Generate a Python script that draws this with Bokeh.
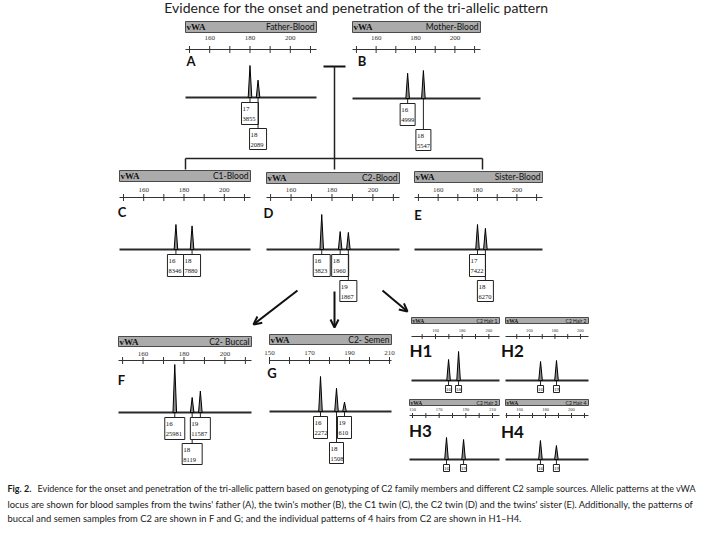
from bokeh.plotting import figure
from bokeh.models import Range1d, Arrow, OpenHead
from bokeh.embed import file_html
from bokeh.resources import INLINE
from bokeh.core.properties import value

# ---------------- data ----------------
TITLE = "Evidence for the onset and penetration of the tri-allelic pattern"
LOCUS = "vWA"
PANEL_IDS = ["A", "B", "C", "D", "E", "F", "G", "H1", "H2", "H3", "H4"]
SAMPLES = ["Father-Blood", "Mother-Blood", "C1-Blood", "C2-Blood", "Sister-Blood",
           "C2- Buccal", "C2- Semen", "C2 Hair 1", "C2 Hair 2", "C2 Hair 3", "C2 Hair 4"]

TICKS_160 = [160, 180, 200]          # size-axis tick labels (bp)
TICKS_150 = [150, 170, 190, 210]

# alleles, fragment sizes (bp) and peak heights (RFU) per panel
ALLELES_A, SIZES_A, RFU_A = ["17", "18"], [180.0, 184.0], [3855, 2089]
ALLELES_B, SIZES_B, RFU_B = ["16", "18"], [176.0, 184.0], [4999, 5547]
ALLELES_C, SIZES_C, RFU_C = ["16", "18"], [176.0, 184.0], [8346, 7880]
ALLELES_D, SIZES_D, RFU_D = ["16", "18", "19"], [175.0, 184.0, 188.0], [3823, 1960, 1867]
ALLELES_E, SIZES_E, RFU_E = ["17", "18"], [180.0, 184.0], [7422, 6270]
ALLELES_F, SIZES_F, RFU_F = ["16", "18", "19"], [175.5, 184.0, 188.0], [25981, 8119, 11587]
ALLELES_G, SIZES_G, RFU_G = ["16", "18", "19"], [175.5, 183.5, 187.5], [2272, 1508, 610]
# hair samples: no RFU printed, relative peak heights
ALLELES_H1, SIZES_H1, HEIGHT_H1 = ["16", "18"], [169.8, 177.3], [21, 29]
ALLELES_H2, SIZES_H2, HEIGHT_H2 = ["16", "19"], [168.7, 181.2], [19, 20]
ALLELES_H3, SIZES_H3, HEIGHT_H3 = ["16", "19"], [175.5, 188.3], [22, 20]
ALLELES_H4, SIZES_H4, HEIGHT_H4 = ["16", "19"], [176.1, 188.4], [19, 14]

CAPTION_BOLD = "Fig. 2."
CAPTION_LINES = [
    "Evidence for the onset and penetration of the tri-allelic pattern based on genotyping of C2 family members and different C2 sample sources. Allelic patterns at the vWA",
    "locus are shown for blood samples from the twins' father (A), the twin's mother (B), the C1 twin (C), the C2 twin (D) and the twins' sister (E). Additionally, the patterns of",
    "buccal and semen samples from C2 are shown in F and G; and the individual patterns of 4 hairs from C2 are shown in H1\u2013H4.",
]

DATA = {
    "A": (ALLELES_A, SIZES_A, RFU_A, TICKS_160, True),
    "B": (ALLELES_B, SIZES_B, RFU_B, TICKS_160, True),
    "C": (ALLELES_C, SIZES_C, RFU_C, TICKS_160, True),
    "D": (ALLELES_D, SIZES_D, RFU_D, TICKS_160, True),
    "E": (ALLELES_E, SIZES_E, RFU_E, TICKS_160, True),
    "F": (ALLELES_F, SIZES_F, RFU_F, TICKS_160, True),
    "G": (ALLELES_G, SIZES_G, RFU_G, TICKS_150, True),
    "H1": (ALLELES_H1, SIZES_H1, HEIGHT_H1, TICKS_160, False),
    "H2": (ALLELES_H2, SIZES_H2, HEIGHT_H2, TICKS_160, False),
    "H3": (ALLELES_H3, SIZES_H3, HEIGHT_H3, TICKS_150, False),
    "H4": (ALLELES_H4, SIZES_H4, HEIGHT_H4, TICKS_160, False),
}

# ---------------- layout (page positions, px) ----------------
LAYOUT = {
    "A": dict(bar=(193, 324, 29, 40), bp=(148, 213), tick_y=45.5, axis_y=57, letter=(198.5, 68.5), base=105, tall=32, box_w=17, rows=[0, 1]),
    "B": dict(bar=(360, 488, 29, 40), bp=(148, 213), tick_y=45.5, axis_y=57, letter=(369.5, 68.5), base=106, tall=28, box_w=15, rows=[0, 1]),
    "C": dict(bar=(127, 258, 178, 189), bp=(148, 213), tick_y=197, axis_y=205, letter=(129.5, 219), base=257, tall=25, box_w=17, rows=[0, 0]),
    "D": dict(bar=(274, 407, 180, 191), bp=(148, 213), tick_y=197, axis_y=205, letter=(276, 220.5), base=257, tall=35, box_w=17, rows=[0, 0, 1]),
    "E": dict(bar=(422, 550, 179, 190), bp=(148, 213), tick_y=197, axis_y=205, letter=(425.5, 222), base=257, tall=25, box_w=16, rows=[0, 1]),
    "F": dict(bar=(126, 259, 344, 354), bp=(148, 213), tick_y=361, axis_y=368, letter=(129, 387), base=420, tall=48, box_w=20, rows=[0, 1, 0]),
    "G": dict(bar=(277, 399, 342, 352), bp=(150, 211), tick_y=360, axis_y=368, letter=(279.5, 380), base=419, tall=35, box_w=14, rows=[0, 1, 0]),
    "H1": dict(bar=(419, 507, 325, 331), bp=(142, 208), tick_y=338, axis_y=344, letter=(428.5, 358), base=388, tall=29, box_w=6, rows=[0, 0]),
    "H2": dict(bar=(513, 596, 325, 331), bp=(141.2, 206.3), tick_y=338, axis_y=344, letter=(520, 358), base=388, tall=20, box_w=6, rows=[0, 0]),
    "H3": dict(bar=(417, 507, 407, 413), bp=(147.75, 215.25), tick_y=417, axis_y=423, letter=(428, 438), base=467, tall=22, box_w=6, rows=[0, 0]),
    "H4": dict(bar=(513, 596, 407, 413), bp=(149.2, 213.1), tick_y=417, axis_y=423, letter=(520, 439), base=467, tall=19, box_w=6, rows=[0, 0]),
}

SANS = value("Lato")
SERIF = value("Liberation Serif")
BAR_FILL = "#ababab"
BAR_LINE = "#4a4a4a"

p = figure(width=704, height=524, x_range=Range1d(8, 712), y_range=Range1d(532, 8),
           output_backend="svg", toolbar_location=None, min_border=0,
           x_axis_location=None, y_axis_location=None)
p.grid.visible = False
p.outline_line_color = None
p.background_fill_color = "white"
p.border_fill_color = "white"


def draw_panel(pid, sample):
    alleles, sizes, heights, ticks, show_rfu = DATA[pid]
    L = LAYOUT[pid]
    left, right, btop, bbot = L["bar"]
    lo, hi = L["bp"]
    base = L["base"]
    ppb = (right - left) / (hi - lo)
    small = pid.startswith("H")

    tr = p.subplot(x_source=Range1d(lo, hi), y_source=Range1d(0, max(heights)),
                   x_target=Range1d(left, right), y_target=Range1d(base, base - L["tall"]))
    dc = p.subplot(x_source=Range1d(lo, hi), y_source=Range1d(0, 540),
                   x_target=Range1d(left, right), y_target=Range1d(0, 540))

    # header bar
    dc.quad(left=[lo], right=[hi], top=[btop], bottom=[bbot],
            fill_color=BAR_FILL, line_color=BAR_LINE, line_width=1)
    ymid = (btop + bbot) / 2
    dc.text(x=[lo], y=[ymid], text=[LOCUS], x_offset=1, text_align="left",
            text_baseline="middle", text_font=SERIF, text_font_style="bold",
            text_font_size="5.5px" if small else "9px", text_color="#111111")
    dc.text(x=[hi], y=[ymid], text=[sample], x_offset=-2, text_align="right",
            text_baseline="middle", text_font=SANS,
            text_font_size="5px" if small else "8.5px", text_color="#111111")

    # size axis
    ay = L["axis_y"]
    dc.segment(x0=[lo], x1=[hi], y0=[ay], y1=[ay], line_color="#333333", line_width=1)
    tk = []
    t = ticks[0] - 10
    while t <= ticks[-1] + 10:
        if lo <= t <= hi:
            tk.append(t)
        t += 10
    tl = 2.5 if small else 3.5
    dc.segment(x0=tk, x1=tk, y0=[ay - tl] * len(tk), y1=[ay + tl] * len(tk),
               line_color="#333333", line_width=1)
    dc.text(x=ticks, y=[L["tick_y"]] * len(ticks), text=[str(v) for v in ticks],
            text_align="center", text_baseline="middle", text_font=SERIF,
            text_font_size="4.5px" if small else "7px", text_color="#333333")

    # panel letter
    lx, ly = L["letter"]
    p.text(x=[lx], y=[ly], text=[pid], text_align="center", text_baseline="middle",
           text_font=SANS, text_font_style="bold",
           text_font_size="17px" if small else "13px", text_color="#111111")

    # trace: baseline and peaks
    tr.line(x=[lo, hi], y=[0, 0], line_color="#2a2a2a", line_width=2)
    w = 1.8 / ppb
    tr.patches(xs=[[s - w, s, s + w] for s in sizes], ys=[[0, h, 0] for h in heights],
               fill_color="#8a8a8a", line_color="#000000", line_width=1)

    # allele call boxes
    hw = L["box_w"] / 2 / ppb
    for a, s, h, row in zip(alleles, sizes, heights, L["rows"]):
        if small:
            top, hgt = base + 5, 7
        else:
            top, hgt = (base + 5, 22) if row == 0 else (base + 31, 21)
        dc.segment(x0=[s], x1=[s], y0=[base], y1=[top], line_color="#222222", line_width=1)
        dc.quad(left=[s - hw], right=[s + hw], top=[top], bottom=[top + hgt],
                fill_color="white", line_color="#222222", line_width=1)
        if small:
            dc.text(x=[s], y=[top + hgt / 2], text=[a], text_align="center",
                    text_baseline="middle", text_font=SERIF, text_font_size="5px",
                    text_color="#111111")
        else:
            dc.text(x=[s - hw], y=[top + 6], text=[a], x_offset=1, text_align="left",
                    text_baseline="middle", text_font=SERIF, text_font_size="7px",
                    text_color="#111111")
            if show_rfu:
                dc.text(x=[s - hw], y=[top + 16.5], text=[str(h)], x_offset=1, text_align="left",
                        text_baseline="middle", text_font=SERIF, text_font_size="6.5px",
                        text_color="#111111")


for pid, sample in zip(PANEL_IDS, SAMPLES):
    draw_panel(pid, sample)

# pedigree connectors
p.segment(x0=[331], x1=[353], y0=[74], y1=[74], line_color="#111111", line_width=2)
p.segment(x0=[342, 193, 193, 490], x1=[342, 490, 193, 490],
          y0=[74, 166, 166, 166], y1=[177, 166, 177, 177],
          line_color="#222222", line_width=1.5)

# arrows from C2 blood to the other C2 samples
for xs, ys, xe, ye in [(305, 298, 261, 332), (342, 299, 342, 335), (390, 298, 415, 319)]:
    p.add_layout(Arrow(x_start=xs, y_start=ys, x_end=xe, y_end=ye, line_width=2,
                       line_color="#111111",
                       end=OpenHead(size=8, line_width=2, line_color="#111111")))

# title
p.text(x=[364], y=[14.5], text=[TITLE], text_align="center", text_baseline="middle",
       text_font=SANS, text_font_size="14px", text_color="#222222")

# caption
p.text(x=[15], y=[496], text=[CAPTION_BOLD], text_align="left", text_baseline="middle",
       text_font=SANS, text_font_style="bold", text_font_size="9px", text_color="#1a1a1a")
p.text(x=[45], y=[496], text=CAPTION_LINES[:1], text_align="left", text_baseline="middle",
       text_font=SANS, text_font_size="9px", text_color="#1a1a1a")
p.text(x=[15, 15], y=[511.5, 526], text=CAPTION_LINES[1:], text_align="left",
       text_baseline="middle", text_font=SANS, text_font_size="9.4px", text_color="#1a1a1a")

open("out.html", "w").write(file_html(p, INLINE))
